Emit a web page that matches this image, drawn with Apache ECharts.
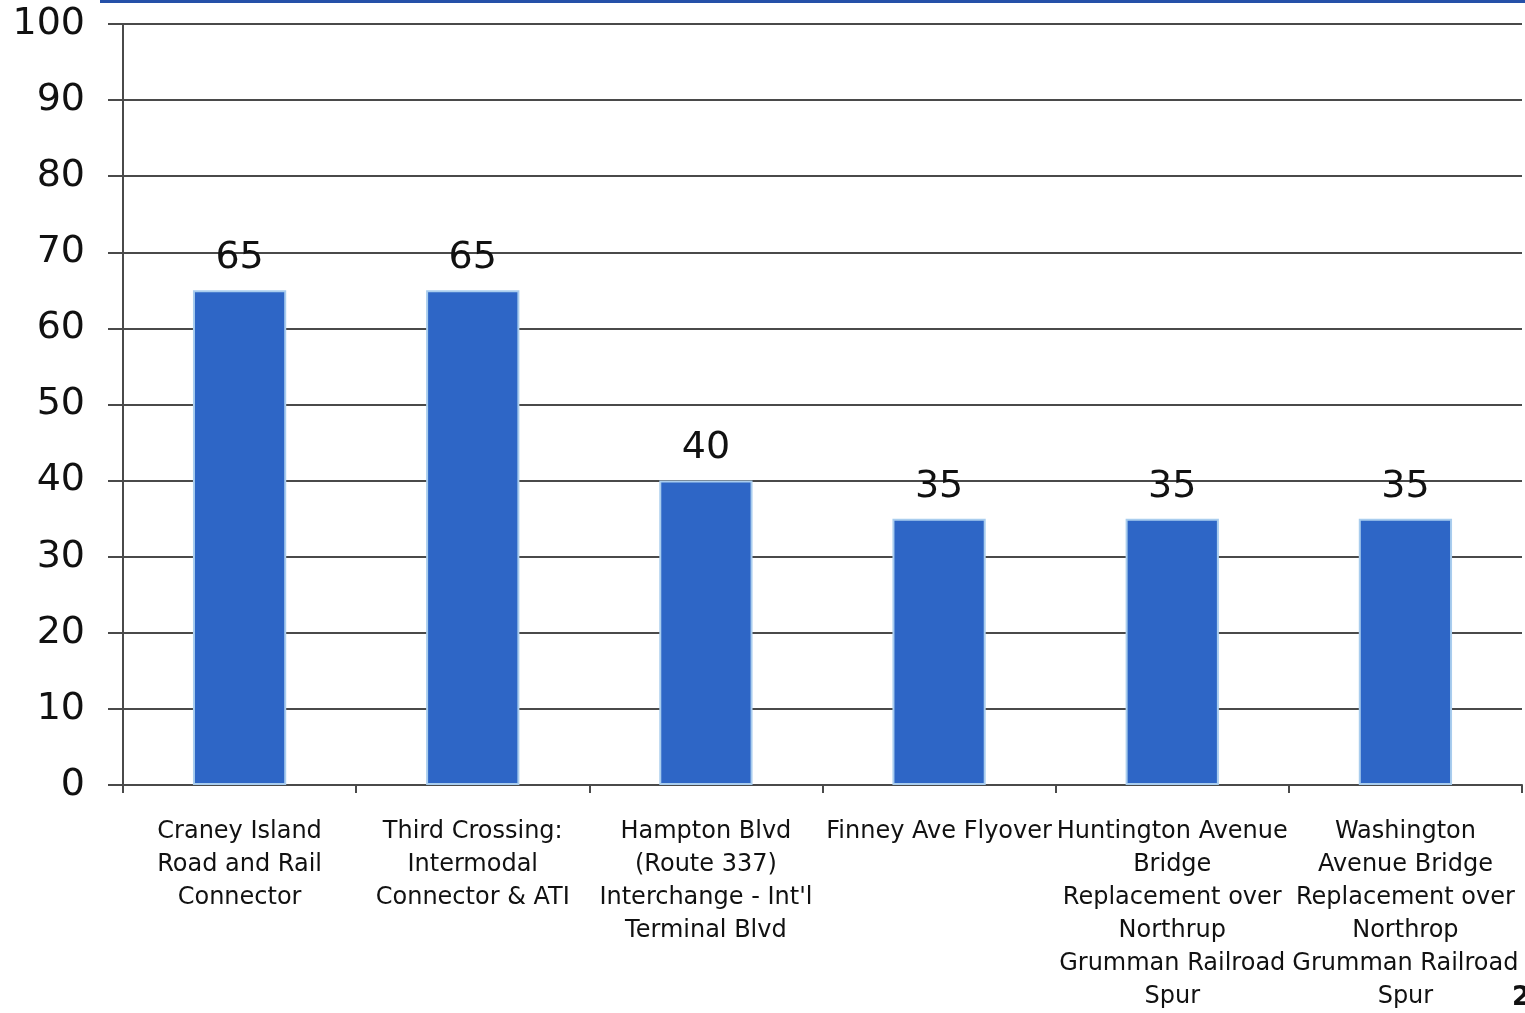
<!DOCTYPE html>
<html><head><meta charset="utf-8">
<script src="https://cdn.jsdelivr.net/npm/echarts@6/dist/echarts.min.js"></script>
<style>html,body{margin:0;padding:0;background:#fff}#c{width:1525px;height:1013px}</style>
</head><body><div id="c"></div>
<script>
const categories = [
  "Craney Island\nRoad and Rail\nConnector",
  "Third Crossing:\nIntermodal\nConnector & ATI",
  "Hampton Blvd\n(Route 337)\nInterchange - Int'l\nTerminal Blvd",
  "Finney Ave Flyover",
  "Huntington Avenue\nBridge\nReplacement over\nNorthrup\nGrumman Railroad\nSpur",
  "Washington\nAvenue Bridge\nReplacement over\nNorthrop\nGrumman Railroad\nSpur"
];
const values = [65, 65, 40, 35, 35, 35];
const yTicks = {min: 0, max: 100, interval: 10};

const chart = echarts.init(document.getElementById('c'));
const font = 'DejaVu Sans';
chart.setOption({
  animation: false,
  backgroundColor: '#fff',
  grid: {left: 123, right: 3, top: 24, bottom: 227, containLabel: false},
  xAxis: {
    type: 'category', data: categories,
    axisLine: {lineStyle: {color: '#4a4a4a', width: 2}},
    axisTick: {show: true, length: 8, lineStyle: {color: '#4a4a4a', width: 2}},
    axisLabel: {interval: 0, color: '#111', fontFamily: font, fontSize: 24, lineHeight: 33, margin: 30, align: 'center'}
  },
  yAxis: {
    type: 'value', min: yTicks.min, max: yTicks.max, interval: yTicks.interval,
    axisLine: {show: true, lineStyle: {color: '#4a4a4a', width: 2}},
    axisTick: {show: true, length: 15, lineStyle: {color: '#4a4a4a', width: 2}},
    splitLine: {lineStyle: {color: '#4a4a4a', width: 2}},
    axisLabel: {color: '#111', fontFamily: font, fontSize: 38, margin: 38}
  },
  series: [{
    type: 'bar', data: values, barCategoryGap: '60%',
    itemStyle: {color: '#2e66c6', borderColor: '#a9cdee', borderWidth: 2},
    label: {show: true, position: 'top', distance: 13, color: '#111', fontFamily: font, fontSize: 38}
  }],
  graphic: [
    {type: 'rect', shape: {x: 100, y: 0, width: 1425, height: 3}, style: {fill: '#2550a8'}},
    {type: 'text', left: 1512, top: 985, style: {text: '2', font: 'bold 26px ' + font, fill: '#111'}}
  ]
});
</script></body></html>
